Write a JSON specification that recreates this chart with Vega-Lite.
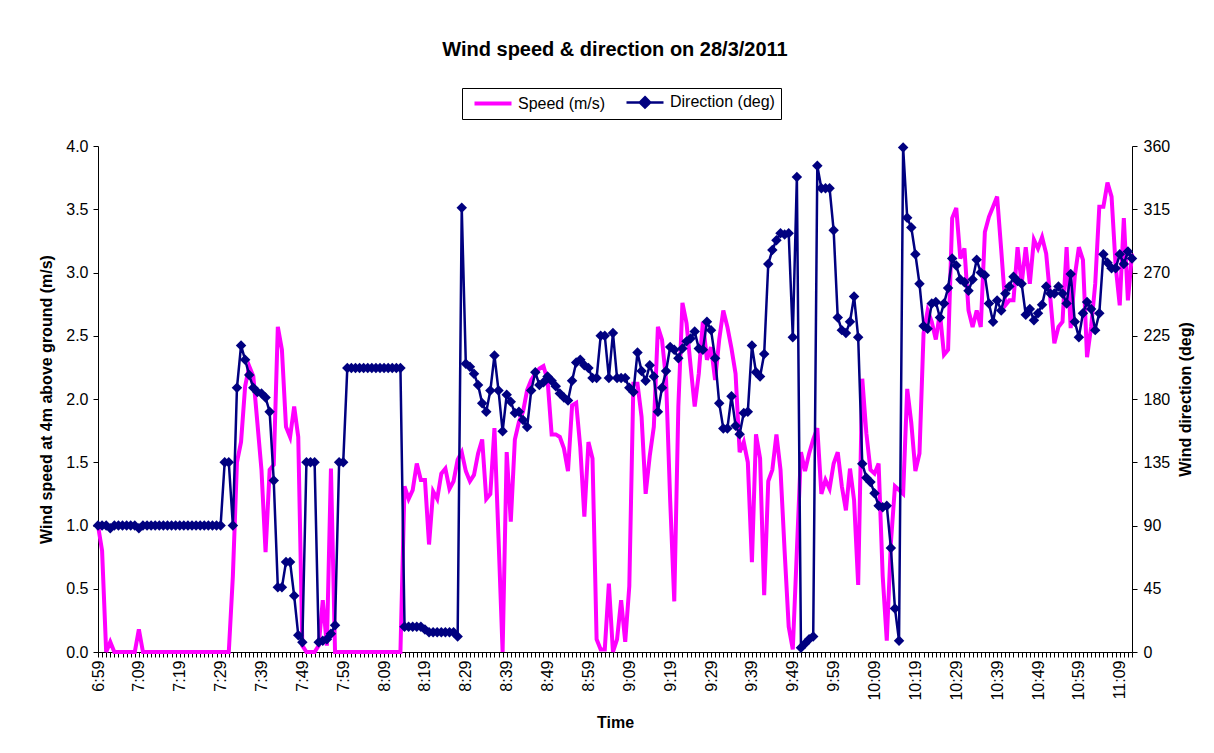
{
  "$schema": "https://vega.github.io/schema/vega-lite/v6.json",
  "autosize": {"type": "none"},
  "width": 1034,
  "height": 506,
  "padding": {"left": 98, "top": 146, "right": 82, "bottom": 101},
  "background": "white",
  "config": {
    "font": "Liberation Sans",
    "view": {"stroke": null},
    "axis": {"grid": false, "domainColor": "black", "tickColor": "black", "labelColor": "black", "titleColor": "black", "labelFont": "Liberation Sans", "titleFont": "Liberation Sans", "labelFontSize": 16, "titleFontSize": 16, "titleFontWeight": "bold", "tickSize": 5, "domainWidth": 1, "tickWidth": 1}
  },
  "title": {"text": "Wind speed & direction on 28/3/2011", "fontSize": 20, "fontWeight": "bold", "font": "Liberation Sans", "color": "black", "anchor": "middle", "offset": 28},
  "data": {"values": [
    {"time":"6:59","speed":1.0,"dir":90},{"time":"7:00","speed":0.8,"dir":90},{"time":"7:01","speed":0,"dir":90},{"time":"7:02","speed":0.08,"dir":88},{"time":"7:03","speed":0,"dir":90},{"time":"7:04","speed":0,"dir":90},{"time":"7:05","speed":0,"dir":90},{"time":"7:06","speed":0,"dir":90},{"time":"7:07","speed":0,"dir":90},{"time":"7:08","speed":0,"dir":90},
    {"time":"7:09","speed":0.18,"dir":88},{"time":"7:10","speed":0,"dir":90},{"time":"7:11","speed":0,"dir":90},{"time":"7:12","speed":0,"dir":90},{"time":"7:13","speed":0,"dir":90},{"time":"7:14","speed":0,"dir":90},{"time":"7:15","speed":0,"dir":90},{"time":"7:16","speed":0,"dir":90},{"time":"7:17","speed":0,"dir":90},{"time":"7:18","speed":0,"dir":90},
    {"time":"7:19","speed":0,"dir":90},{"time":"7:20","speed":0,"dir":90},{"time":"7:21","speed":0,"dir":90},{"time":"7:22","speed":0,"dir":90},{"time":"7:23","speed":0,"dir":90},{"time":"7:24","speed":0,"dir":90},{"time":"7:25","speed":0,"dir":90},{"time":"7:26","speed":0,"dir":90},{"time":"7:27","speed":0,"dir":90},{"time":"7:28","speed":0,"dir":90},
    {"time":"7:29","speed":0,"dir":90},{"time":"7:30","speed":0,"dir":135},{"time":"7:31","speed":0,"dir":135},{"time":"7:32","speed":0.6,"dir":90},{"time":"7:33","speed":1.5,"dir":188},{"time":"7:34","speed":1.66,"dir":218},{"time":"7:35","speed":2.1,"dir":208},{"time":"7:36","speed":2.26,"dir":197},{"time":"7:37","speed":2.18,"dir":188},{"time":"7:38","speed":1.81,"dir":185},
    {"time":"7:39","speed":1.44,"dir":184},{"time":"7:40","speed":0.79,"dir":181},{"time":"7:41","speed":1.44,"dir":171},{"time":"7:42","speed":1.48,"dir":122},{"time":"7:43","speed":2.57,"dir":46},{"time":"7:44","speed":2.39,"dir":46},{"time":"7:45","speed":1.78,"dir":64},{"time":"7:46","speed":1.7,"dir":64},{"time":"7:47","speed":1.94,"dir":40},{"time":"7:48","speed":1.7,"dir":12},
    {"time":"7:49","speed":0.05,"dir":7},{"time":"7:50","speed":0,"dir":135},{"time":"7:51","speed":0,"dir":135},{"time":"7:52","speed":0,"dir":135},{"time":"7:53","speed":0.05,"dir":7},{"time":"7:54","speed":0.41,"dir":8},{"time":"7:55","speed":0.05,"dir":9},{"time":"7:56","speed":1.45,"dir":13},{"time":"7:57","speed":0,"dir":19},{"time":"7:58","speed":0,"dir":135},
    {"time":"7:59","speed":0,"dir":135},{"time":"8:00","speed":0,"dir":202},{"time":"8:01","speed":0,"dir":202},{"time":"8:02","speed":0,"dir":202},{"time":"8:03","speed":0,"dir":202},{"time":"8:04","speed":0,"dir":202},{"time":"8:05","speed":0,"dir":202},{"time":"8:06","speed":0,"dir":202},{"time":"8:07","speed":0,"dir":202},{"time":"8:08","speed":0,"dir":202},
    {"time":"8:09","speed":0,"dir":202},{"time":"8:10","speed":0,"dir":202},{"time":"8:11","speed":0,"dir":202},{"time":"8:12","speed":0,"dir":202},{"time":"8:13","speed":0,"dir":202},{"time":"8:14","speed":1.31,"dir":18},{"time":"8:15","speed":1.21,"dir":18},{"time":"8:16","speed":1.28,"dir":18},{"time":"8:17","speed":1.49,"dir":18},{"time":"8:18","speed":1.36,"dir":18},
    {"time":"8:19","speed":1.36,"dir":16},{"time":"8:20","speed":0.85,"dir":14},{"time":"8:21","speed":1.27,"dir":14},{"time":"8:22","speed":1.21,"dir":14},{"time":"8:23","speed":1.41,"dir":14},{"time":"8:24","speed":1.45,"dir":14},{"time":"8:25","speed":1.29,"dir":14},{"time":"8:26","speed":1.35,"dir":14},{"time":"8:27","speed":1.52,"dir":11},{"time":"8:28","speed":1.58,"dir":316},
    {"time":"8:29","speed":1.43,"dir":205},{"time":"8:30","speed":1.35,"dir":203},{"time":"8:31","speed":1.4,"dir":198},{"time":"8:32","speed":1.57,"dir":190},{"time":"8:33","speed":1.68,"dir":177},{"time":"8:34","speed":1.21,"dir":171},{"time":"8:35","speed":1.25,"dir":186},{"time":"8:36","speed":1.77,"dir":211},{"time":"8:37","speed":0.9,"dir":186},{"time":"8:38","speed":0,"dir":157},
    {"time":"8:39","speed":1.58,"dir":183},{"time":"8:40","speed":1.03,"dir":178},{"time":"8:41","speed":1.68,"dir":170},{"time":"8:42","speed":1.82,"dir":171},{"time":"8:43","speed":1.9,"dir":165},{"time":"8:44","speed":2.07,"dir":160},{"time":"8:45","speed":2.15,"dir":186},{"time":"8:46","speed":2.2,"dir":199},{"time":"8:47","speed":2.24,"dir":190},{"time":"8:48","speed":2.26,"dir":192},
    {"time":"8:49","speed":2.15,"dir":196},{"time":"8:50","speed":1.72,"dir":193},{"time":"8:51","speed":1.72,"dir":189},{"time":"8:52","speed":1.7,"dir":184},{"time":"8:53","speed":1.61,"dir":181},{"time":"8:54","speed":1.43,"dir":179},{"time":"8:55","speed":1.95,"dir":193},{"time":"8:56","speed":1.97,"dir":206},{"time":"8:57","speed":1.62,"dir":208},{"time":"8:58","speed":1.07,"dir":204},
    {"time":"8:59","speed":1.66,"dir":202},{"time":"9:00","speed":1.53,"dir":195},{"time":"9:01","speed":0.1,"dir":195},{"time":"9:02","speed":0.02,"dir":225},{"time":"9:03","speed":0.02,"dir":225},{"time":"9:04","speed":0.54,"dir":195},{"time":"9:05","speed":0,"dir":227},{"time":"9:06","speed":0.1,"dir":195},{"time":"9:07","speed":0.41,"dir":195},{"time":"9:08","speed":0.08,"dir":195},
    {"time":"9:09","speed":0.52,"dir":188},{"time":"9:10","speed":2.12,"dir":185},{"time":"9:11","speed":2.12,"dir":213},{"time":"9:12","speed":1.86,"dir":200},{"time":"9:13","speed":1.25,"dir":193},{"time":"9:14","speed":1.55,"dir":204},{"time":"9:15","speed":1.78,"dir":196},{"time":"9:16","speed":2.57,"dir":171},{"time":"9:17","speed":2.47,"dir":188},{"time":"9:18","speed":2.15,"dir":200},
    {"time":"9:19","speed":1.2,"dir":217},{"time":"9:20","speed":0.4,"dir":215},{"time":"9:21","speed":1.94,"dir":209},{"time":"9:22","speed":2.76,"dir":216},{"time":"9:23","speed":2.6,"dir":221},{"time":"9:24","speed":2.26,"dir":223},{"time":"9:25","speed":1.94,"dir":228},{"time":"9:26","speed":2.2,"dir":216},{"time":"9:27","speed":2.61,"dir":215},{"time":"9:28","speed":2.31,"dir":235},
    {"time":"9:29","speed":2.41,"dir":229},{"time":"9:30","speed":2.15,"dir":209},{"time":"9:31","speed":2.47,"dir":177},{"time":"9:32","speed":2.7,"dir":159},{"time":"9:33","speed":2.57,"dir":159},{"time":"9:34","speed":2.4,"dir":182},{"time":"9:35","speed":2.2,"dir":161},{"time":"9:36","speed":1.58,"dir":155},{"time":"9:37","speed":1.66,"dir":170},{"time":"9:38","speed":1.5,"dir":171},
    {"time":"9:39","speed":0.71,"dir":218},{"time":"9:40","speed":1.72,"dir":199},{"time":"9:41","speed":1.53,"dir":196},{"time":"9:42","speed":0.45,"dir":212},{"time":"9:43","speed":1.35,"dir":276},{"time":"9:44","speed":1.44,"dir":286},{"time":"9:45","speed":1.72,"dir":293},{"time":"9:46","speed":1.44,"dir":298},{"time":"9:47","speed":0.8,"dir":297},{"time":"9:48","speed":0.2,"dir":298},
    {"time":"9:49","speed":0.02,"dir":224},{"time":"9:50","speed":0.8,"dir":338},{"time":"9:51","speed":1.58,"dir":3},{"time":"9:52","speed":1.43,"dir":6},{"time":"9:53","speed":1.57,"dir":9},{"time":"9:54","speed":1.68,"dir":11},{"time":"9:55","speed":1.77,"dir":346},{"time":"9:56","speed":1.25,"dir":330},{"time":"9:57","speed":1.36,"dir":330},{"time":"9:58","speed":1.29,"dir":330},
    {"time":"9:59","speed":1.49,"dir":300},{"time":"10:00","speed":1.58,"dir":238},{"time":"10:01","speed":1.31,"dir":229},{"time":"10:02","speed":1.12,"dir":227},{"time":"10:03","speed":1.45,"dir":235},{"time":"10:04","speed":1.2,"dir":253},{"time":"10:05","speed":0.53,"dir":224},{"time":"10:06","speed":2.16,"dir":134},{"time":"10:07","speed":1.73,"dir":124},{"time":"10:08","speed":1.44,"dir":121},
    {"time":"10:09","speed":1.41,"dir":113},{"time":"10:10","speed":1.49,"dir":104},{"time":"10:11","speed":0.6,"dir":103},{"time":"10:12","speed":0.09,"dir":104},{"time":"10:13","speed":0.86,"dir":74},{"time":"10:14","speed":1.31,"dir":31},{"time":"10:15","speed":1.28,"dir":8},{"time":"10:16","speed":1.25,"dir":359},{"time":"10:17","speed":2.08,"dir":309},{"time":"10:18","speed":1.81,"dir":302},
    {"time":"10:19","speed":1.43,"dir":283},{"time":"10:20","speed":1.57,"dir":262},{"time":"10:21","speed":2.52,"dir":232},{"time":"10:22","speed":2.7,"dir":230},{"time":"10:23","speed":2.61,"dir":248},{"time":"10:24","speed":2.47,"dir":249},{"time":"10:25","speed":2.68,"dir":238},{"time":"10:26","speed":2.35,"dir":248},{"time":"10:27","speed":2.39,"dir":259},{"time":"10:28","speed":3.43,"dir":280},
    {"time":"10:29","speed":3.51,"dir":275},{"time":"10:30","speed":3.11,"dir":265},{"time":"10:31","speed":3.19,"dir":263},{"time":"10:32","speed":2.7,"dir":257},{"time":"10:33","speed":2.57,"dir":265},{"time":"10:34","speed":2.7,"dir":279},{"time":"10:35","speed":2.57,"dir":270},{"time":"10:36","speed":3.32,"dir":268},{"time":"10:37","speed":3.44,"dir":248},{"time":"10:38","speed":3.52,"dir":235},
    {"time":"10:39","speed":3.6,"dir":250},{"time":"10:40","speed":3.18,"dir":243},{"time":"10:41","speed":2.74,"dir":255},{"time":"10:42","speed":2.78,"dir":260},{"time":"10:43","speed":2.78,"dir":267},{"time":"10:44","speed":3.2,"dir":264},{"time":"10:45","speed":2.91,"dir":262},{"time":"10:46","speed":3.2,"dir":240},{"time":"10:47","speed":2.91,"dir":244},{"time":"10:48","speed":3.26,"dir":236},
    {"time":"10:49","speed":3.19,"dir":241},{"time":"10:50","speed":3.28,"dir":247},{"time":"10:51","speed":3.15,"dir":260},{"time":"10:52","speed":2.8,"dir":255},{"time":"10:53","speed":2.44,"dir":255},{"time":"10:54","speed":2.57,"dir":260},{"time":"10:55","speed":2.61,"dir":255},{"time":"10:56","speed":3.2,"dir":248},{"time":"10:57","speed":2.56,"dir":269},{"time":"10:58","speed":2.97,"dir":235},
    {"time":"10:59","speed":3.2,"dir":224},{"time":"11:00","speed":3.1,"dir":241},{"time":"11:01","speed":2.33,"dir":249},{"time":"11:02","speed":2.57,"dir":244},{"time":"11:03","speed":2.91,"dir":229},{"time":"11:04","speed":3.52,"dir":241},{"time":"11:05","speed":3.52,"dir":283},{"time":"11:06","speed":3.71,"dir":277},{"time":"11:07","speed":3.6,"dir":273},{"time":"11:08","speed":3.05,"dir":273},
    {"time":"11:09","speed":2.74,"dir":283},{"time":"11:10","speed":3.43,"dir":276},{"time":"11:11","speed":2.78,"dir":285},{"time":"11:12","speed":3.15,"dir":280}
  ]},
  "encoding": {
    "x": {"field": "time", "type": "ordinal", "sort": null, "scale": {"type": "point", "padding": 0},
      "axis": {"title": "Time", "labelAngle": -90, "labelOverlap": false, "labelPadding": 3, "titlePadding": 14,
        "labelExpr": "slice(datum.label, -1) === '9' ? datum.label : ''"}}
  },
  "layer": [
    {
      "mark": {"type": "line", "strokeWidth": 4, "interpolate": "linear"},
      "encoding": {
        "y": {"field": "speed", "type": "quantitative", "scale": {"domain": [0, 4], "nice": false},
          "axis": {"title": "Wind speed at 4m above ground (m/s)", "values": [0, 0.5, 1, 1.5, 2, 2.5, 3, 3.5, 4], "format": ".1f", "labelPadding": 5, "titlePadding": 11}},
        "color": {"datum": "Speed (m/s)", "type": "nominal",
          "scale": {"domain": ["Speed (m/s)", "Direction (deg)"], "range": ["#FF00FF", "#000080"]},
          "legend": {"title": null, "orient": "none", "legendX": 364, "legendY": -58, "direction": "horizontal",
            "strokeColor": "black", "fillColor": "white", "padding": 6, "labelFontSize": 16, "labelFont": "Liberation Sans", "labelColor": "black",
            "symbolSize": 1369, "symbolOffset": 17, "columnPadding": 14, "labelOffset": 17,
            "encode": {"symbols": {"update": {
              "shape": {"signal": "datum.value === 'Speed (m/s)' ? 'stroke' : 'M-1,0L1,0M0,-0.28L0.28,0L0,0.28L-0.28,0Z'"},
              "fill": {"signal": "datum.value === 'Speed (m/s)' ? 'transparent' : '#000080'"},
              "strokeWidth": {"signal": "datum.value === 'Speed (m/s)' ? 4 : 2.5"},
              "size": {"value": 1369},
              "opacity": {"value": 1}
            }}}}}
      }
    },
    {
      "mark": {"type": "line", "strokeWidth": 2.5, "point": {"shape": "diamond", "filled": true, "size": 110, "color": "#000080"}},
      "encoding": {
        "y": {"field": "dir", "type": "quantitative", "scale": {"domain": [0, 360], "nice": false},
          "axis": {"orient": "right", "title": "Wind direction (deg)", "values": [0, 45, 90, 135, 180, 225, 270, 315, 360], "labelPadding": 6, "titlePadding": 24, "titleAngle": 270}},
        "color": {"datum": "Direction (deg)", "type": "nominal"}
      }
    }
  ],
  "resolve": {"scale": {"y": "independent"}}
}
